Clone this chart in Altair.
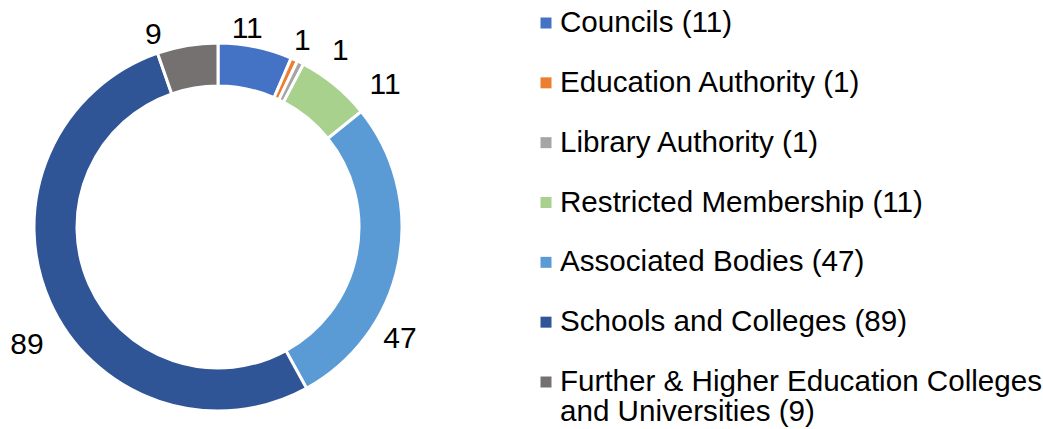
import altair as alt
import pandas as pd

categories = [
    "Councils",
    "Education Authority",
    "Library Authority",
    "Restricted Membership",
    "Associated Bodies",
    "Schools and Colleges",
    "Further & Higher Education Colleges and Universities",
]
values = [11, 1, 1, 11, 47, 89, 9]
colors = ["#4472C4", "#ED7D31", "#A5A5A5", "#A9D18E", "#5B9BD5", "#2F5597", "#767171"]

# label nudges (manual label placement as in the original), applied as style
label_dx = [-13, -2, 29, 35, -22, -1, -30]
label_dy = [6, 3, 10, 19, 72, 34, 13]

legend_text = []
for c, v in zip(categories, values):
    t = f"{c} ({v})"
    if c.startswith("Further"):
        t = "Further & Higher Education Colleges\nand Universities (9)"
    legend_text.append(t)

df = pd.DataFrame({
    "idx": list(range(len(categories))),
    "category": categories,
    "value": values,
    "legend": legend_text,
    "ldx": label_dx,
    "ldy": label_dy,
})

FONT = "Liberation Sans"
CX, CY = 218, 227

color = alt.Color("category:N", scale=alt.Scale(domain=categories, range=colors), legend=None)

base = alt.Chart(df)

arcs = base.mark_arc(innerRadius=141, outerRadius=184, stroke="white", strokeWidth=3).encode(
    theta=alt.Theta("value:Q", stack=True),
    order=alt.Order("idx:Q"),
    color=color,
    x=alt.value(CX),
    y=alt.value(CY),
)

labels = base.mark_text(
    font=FONT, fontSize=30, color="#000000", align="center", baseline="middle",
    radius=208,
    dx=alt.expr("datum.ldx"), dy=alt.expr("datum.ldy"),
).encode(
    theta=alt.Theta("value:Q", stack=True),
    order=alt.Order("idx:Q"),
    text=alt.Text("value:Q"),
    x=alt.value(CX),
    y=alt.value(CY),
)

ypos = alt.Y("category:N", sort=categories,
             scale=alt.Scale(type="point", domain=categories, range=[23, 382], padding=0),
             axis=None)

leg_sq = base.mark_square(size=121, opacity=1).encode(
    x=alt.value(546),
    y=ypos,
    color=color,
)

leg_txt = base.mark_text(
    font=FONT, fontSize=29.6, color="#000000", align="left", baseline="middle",
    lineBreak="\n", lineHeight=30,
).encode(
    x=alt.value(560),
    y=ypos,
    text="legend:N",
)

chart = alt.layer(arcs, labels, leg_sq, leg_txt).properties(
    width=1043, height=429, padding=0,
    autosize=alt.AutoSizeParams(type="none"),
).configure_view(stroke=None)

chart.save("out.html", embed_options={"renderer": "svg", "actions": False})
